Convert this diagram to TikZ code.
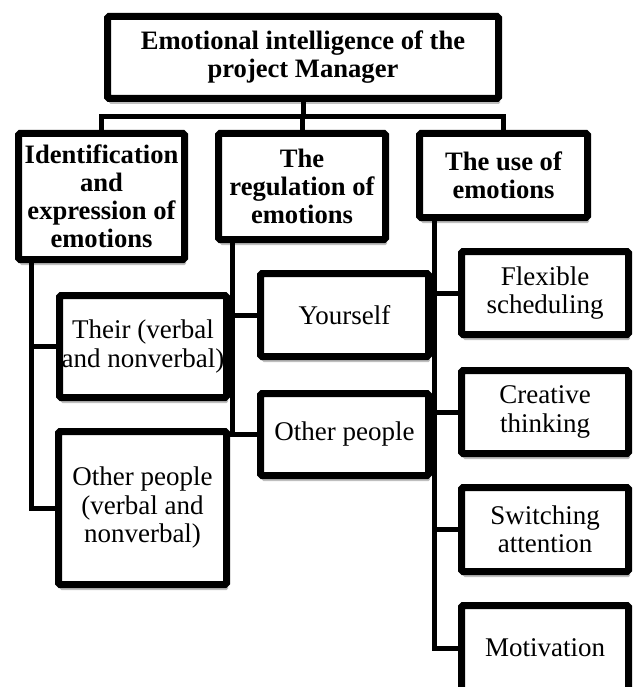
\documentclass[tikz,border=0pt]{standalone}
\usepackage{fontspec}
\setmainfont{Liberation Serif}
\usetikzlibrary{shadows}

\begin{document}
\begin{tikzpicture}[x=1pt,y=-1pt,
  box/.style={draw, line width=7pt, rounded corners=1.5pt, fill=white, align=center,
    inner sep=1pt, font=\fontsize{27}{28.5}\selectfont,
    drop shadow={shadow xshift=1.5pt, shadow yshift=-5.5pt, fill=black, opacity=0.25}},
  head/.style={box, font=\fontsize{26.6}{28}\selectfont\bfseries},
  link/.style={line width=5pt}]
\useasboundingbox (0,0) rectangle (633,687);

\node[head, minimum width=391, minimum height=82] (top) at (303,57.5) {Emotional intelligence of the\\project Manager};

\node[head, minimum width=166, minimum height=126] (id) at (101.5,196.5) {Identification\\and\\expression of\\emotions};
\node[head, minimum width=167, minimum height=106] (reg) at (302,186.5) {The\\regulation of\\emotions};
\node[head, minimum width=168, minimum height=84] (use) at (503.5,175.5) {The use of\\emotions};

\node[box, minimum width=167, minimum height=102] (their) at (143,346.5) {Their (verbal\\and nonverbal)};
\node[box, minimum width=168, minimum height=153] (otherA) at (142.5,508) {Other people\\(verbal and\\nonverbal)};

\node[box, minimum width=168, minimum height=83] (self) at (344.5,315) {Yourself};
\node[box, minimum width=168, minimum height=82] (otherB) at (344.5,434.5) {Other people};

\node[box, minimum width=167, minimum height=83] (flex) at (545,293) {Flexible\\scheduling};
\node[box, minimum width=167, minimum height=83] (creat) at (545,412) {Creative\\thinking};
\node[box, minimum width=167, minimum height=84] (switch) at (545,529.5) {Switching\\attention};
\node[box, minimum width=167, minimum height=85] (motiv) at (545,648) {Motivation};

\coordinate (bus) at (303,117);
\draw[link] (top.south) -- (bus);
\draw[link] (id.north) |- (bus) -| (use.north);
\draw[link] (reg.north) -- (reg.north |- bus);

\draw[link] ([xshift=16.5pt]id.south west) |- (their.west);
\draw[link] ([xshift=16.5pt]id.south west) |- (otherA.west);

\draw[link] ([xshift=17.5pt]reg.south west) |- (self.west);
\draw[link] ([xshift=17.5pt]reg.south west) |- (otherB.west);

\draw[link] ([xshift=18.5pt]use.south west) |- (flex.west);
\draw[link] ([xshift=18.5pt]use.south west) |- (creat.west);
\draw[link] ([xshift=18.5pt]use.south west) |- (switch.west);
\draw[link] ([xshift=18.5pt]use.south west) |- (motiv.west);

\end{tikzpicture}
\end{document}
